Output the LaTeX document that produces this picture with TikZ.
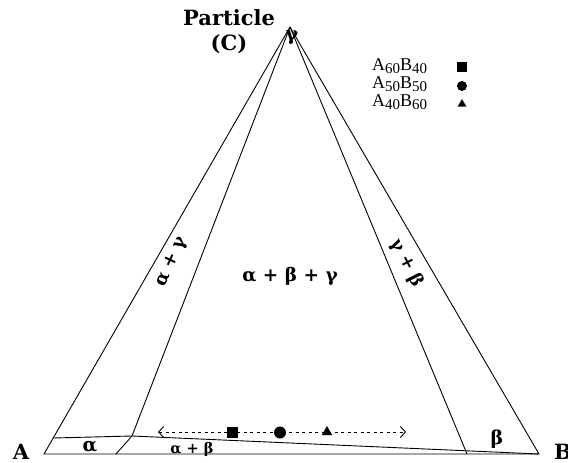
\documentclass[tikz,border=0pt]{standalone}
\usepackage{fontspec}
\setmainfont{Liberation Serif}
\newfontfamily\lbl{DejaVu Serif}
\usetikzlibrary{arrows.meta,shapes.geometric}
\newcommand{\sbs}[1]{\raisebox{-3pt}{\fontsize{15}{15}\selectfont #1}}
\begin{document}
\begin{tikzpicture}[x=1pt,y=-1pt,
  edge/.style={line width=0.9pt, line join=round},
  lab/.style={font=\lbl\bfseries\fontsize{19}{21}\selectfont, inner sep=0pt},
  corner/.style={font=\lbl\bfseries\fontsize{21}{23}\selectfont, inner sep=0pt},
  legtxt/.style={font=\fontsize{18}{18}\selectfont, inner sep=0pt, anchor=west},
  sq/.style={fill=black, rectangle, inner sep=0pt, minimum size=#1},
  dot/.style={fill=black, circle, inner sep=0pt, minimum size=#1},
  tri/.style={fill=black, regular polygon, regular polygon sides=3, inner sep=0pt, minimum size=#1},
  tie/.style={line width=0.8pt, dash pattern=on 3pt off 3.5pt,
     {Straight Barb[length=5pt,width=11pt,line width=0.9pt]}-{Straight Barb[length=5pt,width=11pt,line width=0.9pt]}}
]
\useasboundingbox (0,0) rectangle (568,463);
% corners
\coordinate (A) at (44,454);
\coordinate (B) at (539,454);
\coordinate (C) at (290,27);
\coordinate (aL) at (53.2,438);
\coordinate (K) at (132,436);
\coordinate (Kb) at (116,454);
\coordinate (Rb) at (467,454);
% outer triangle
\draw[edge] (A) -- (B) -- (C) -- cycle;
% inner boundaries
\draw[edge] (C) -- (K) -- (Kb);
\draw[edge] (C) -- (Rb);
\draw[edge] (aL) -- (K) -- (B);
% labels
\node[corner] (la) at (21,452) {A};
\node[corner] (lb) at (563,452) {B};
\node[corner, align=center, font=\lbl\bfseries\fontsize{21}{25}\selectfont] (lc) at (229,32) {Particle\\(C)};
\node[lab] (g) at (292,38) {γ};
\node[lab] (alpha) at (90,447) {α};
\node[lab, font=\lbl\bfseries\fontsize{14.5}{16}\selectfont] (ab) at (192,449) {α + β};
\node[lab] (beta) at (497,439) {β};
\node[lab, font=\lbl\bfseries\fontsize{18.5}{20}\selectfont] (abg) at (290,276) {α + β + γ};
\node[lab, font=\lbl\bfseries\fontsize{18}{20}\selectfont, rotate=65] (ag) at (172,262) {α + γ};
\node[lab, font=\lbl\bfseries\fontsize{18}{20}\selectfont, rotate=-63] (gb) at (407,263) {γ + β};
% tie line
\coordinate (tl) at (158,432);
\coordinate (tr) at (406,432);
\draw[tie] (tl) -- (tr);
\node[sq=11pt] (m1) at (232,432.5) {};
\node[dot=12pt] (m2) at (280,432.5) {};
\node[tri=12pt] (m3) at (327,432) {};
% legend
\node[legtxt] (l1) at (372,66) {A\sbs{60}B\sbs{40}};
\node[legtxt] (l2) at (372,84) {A\sbs{50}B\sbs{50}};
\node[legtxt] (l3) at (372,102) {A\sbs{40}B\sbs{60}};
\node[sq=10pt] (s1) at (462,67) {};
\node[dot=10pt] (s2) at (462,86) {};
\node[tri=10pt] (s3) at (462,104) {};
\end{tikzpicture}
\end{document}
